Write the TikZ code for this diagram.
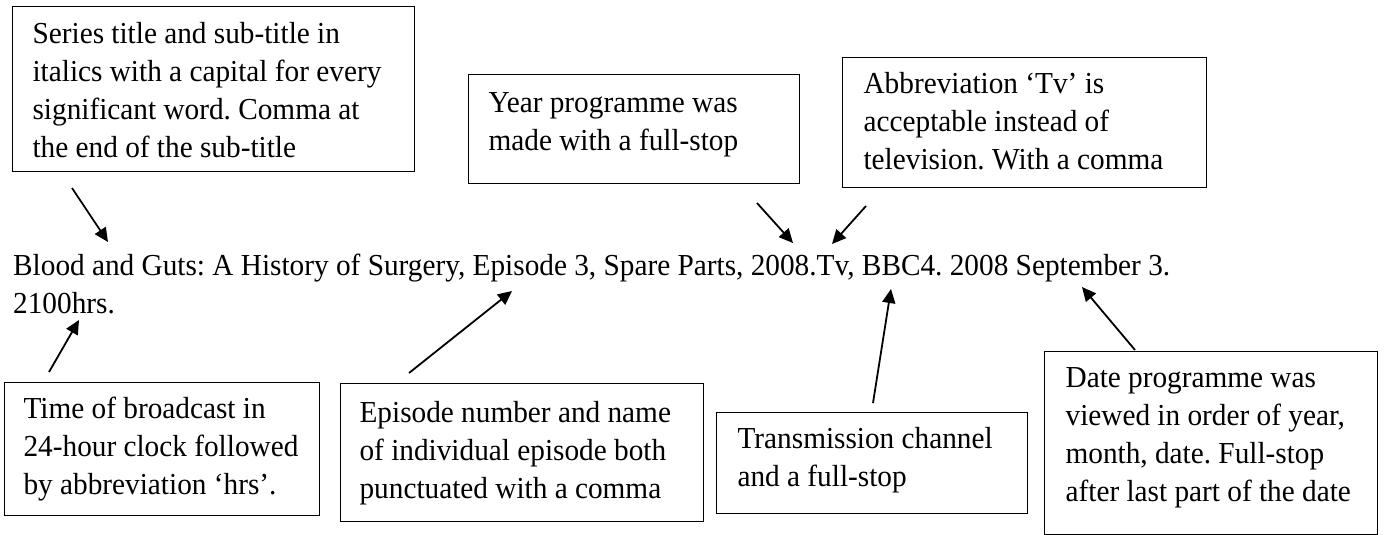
\documentclass[tikz,border=0pt]{standalone}
\usepackage{fontspec}
\setmainfont[FakeStretch=0.96]{Liberation Serif}
\usetikzlibrary{arrows.meta}
\frenchspacing
\newcommand\notetext[3]{\parbox[c][#2][t]{#1}{\strut#3}}
\begin{document}
\begin{tikzpicture}[x=1pt,y=-1pt,
  note/.style={draw, line width=1.2pt, anchor=north west, inner xsep=20pt, inner ysep=10pt,
    font=\fontsize{30.5}{38}\selectfont},
  pointer/.style={line width=1.8pt, -{Triangle[length=14pt,width=13pt]}}]
\useasboundingbox (0,0) rectangle (1385,535);
% main reference text
\node[anchor=base west, inner sep=0pt, font=\fontsize{30.5}{38}\selectfont] (ref) at (13,275)
  {\parbox[t]{1300pt}{\mbox{Blood and Guts: A History of Surgery, Episode 3, Spare Parts, 2008.Tv, BBC4. 2008 September 3.}\\\mbox{2100hrs.}}};
% annotation boxes
\node[note, inner xsep=20pt, inner ysep=10.5pt] (series) at (12,6)
  {\notetext{362pt}{144pt}{\mbox{Series title and sub-title in}\\\mbox{italics with a capital for every}\\\mbox{significant word. Comma at}\\\mbox{the end of the sub-title}}};
\node[note, inner xsep=20pt, inner ysep=11.5pt] (year) at (468,74)
  {\notetext{291pt}{86pt}{\mbox{Year programme was}\\\mbox{made with a full-stop}}};
\node[note, inner xsep=21pt, inner ysep=9.5pt] (abbr) at (842,57)
  {\notetext{322pt}{111pt}{\mbox{Abbreviation `Tv' is}\\\mbox{acceptable instead of}\\\mbox{television. With a comma}}};
\node[note, inner xsep=19pt, inner ysep=9pt] (time) at (4,382)
  {\notetext{277pt}{115pt}{\mbox{Time of broadcast in}\\\mbox{24-hour clock followed}\\\mbox{by abbreviation `hrs'.}}};
\node[note, inner xsep=19pt, inner ysep=12pt] (episode) at (340,383)
  {\notetext{325pt}{114pt}{\mbox{Episode number and name}\\\mbox{of individual episode both}\\\mbox{punctuated with a comma}}};
\node[note, inner xsep=21pt, inner ysep=9.5pt] (trans) at (716,412)
  {\notetext{269pt}{82pt}{\mbox{Transmission channel}\\\mbox{and a full-stop}}};
\node[note, inner xsep=21pt, inner ysep=9.5pt] (date) at (1044,351)
  {\notetext{291pt}{164pt}{\mbox{Date programme was}\\\mbox{viewed in order of year,}\\\mbox{month, date. Full-stop}\\\mbox{after last part of the date}}};
% arrow end points
\coordinate (s1) at (72,188);   \coordinate (t1) at (108,242);
\coordinate (s2) at (757,203);  \coordinate (t2) at (793,243);
\coordinate (s3) at (866,206);  \coordinate (t3) at (832,244);
\coordinate (s4) at (49,372);   \coordinate (t4) at (79,320);
\coordinate (s5) at (409,373);  \coordinate (t5) at (512,291);
\coordinate (s6) at (873,403);  \coordinate (t6) at (891,289);
\coordinate (s7) at (1135,350); \coordinate (t7) at (1082,287);
\draw[pointer] (s1) -- (t1);
\draw[pointer] (s2) -- (t2);
\draw[pointer] (s3) -- (t3);
\draw[pointer] (s4) -- (t4);
\draw[pointer] (s5) -- (t5);
\draw[pointer] (s6) -- (t6);
\draw[pointer] (s7) -- (t7);
\end{tikzpicture}
\end{document}
